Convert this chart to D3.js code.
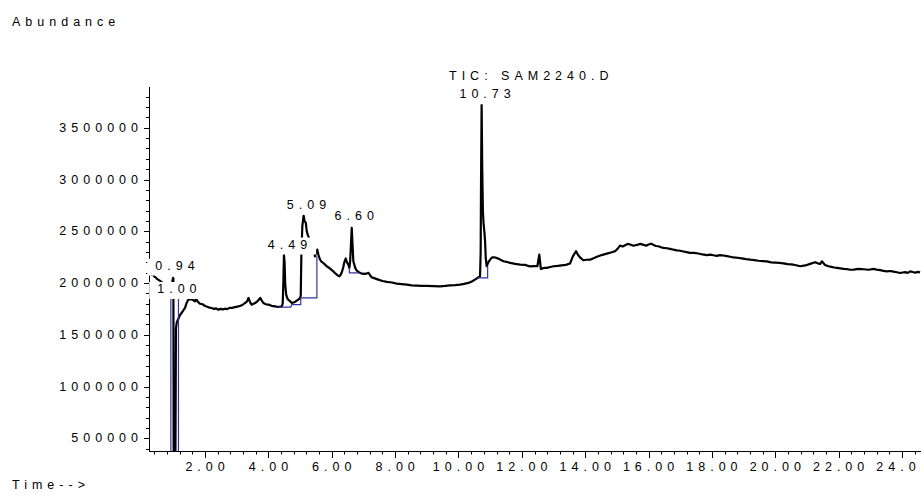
<!DOCTYPE html>
<html>
<head>
<meta charset="utf-8">
<script src="https://cdn.jsdelivr.net/npm/d3@7"></script>
<style>
  body { margin: 0; background: #fff; }
  text { font-family: "Liberation Sans", Arial, sans-serif; font-size: 12.5px; letter-spacing: 5px; fill: #000; }
</style>
</head>
<body>
<svg id="chart" width="921" height="500"></svg>
<script>

// retention time (min) and abundance
var times = [0.23, 0.27, 0.31, 0.36, 0.39, 0.44, 0.48, 0.53, 0.58, 0.67, 0.77, 0.86, 0.95, 0.99, 1.00, 1.01, 1.06, 1.08, 1.105, 1.15,
  1.21, 1.28, 1.37, 1.42, 1.47, 1.55, 1.62, 1.68, 1.71, 1.77, 1.84, 1.92, 2.00, 2.07, 2.14, 2.21, 2.28, 2.35, 2.42, 2.49,
  2.56, 2.63, 2.70, 2.77, 2.84, 2.91, 2.98, 3.05, 3.12, 3.19, 3.26, 3.32, 3.37, 3.42, 3.47, 3.53, 3.58, 3.64, 3.70, 3.74,
  3.79, 3.84, 3.92, 4.00, 4.10, 4.21, 4.31, 4.38, 4.42, 4.45, 4.47, 4.49, 4.51, 4.53, 4.56, 4.60, 4.63, 4.68, 4.74, 4.79,
  4.84, 4.89, 4.94, 5.00, 5.02, 5.04, 5.07, 5.09, 5.11, 5.14, 5.18, 5.21, 5.24, 5.30, 5.36, 5.42, 5.47, 5.54, 5.58, 5.63,
  5.68, 5.73, 5.78, 5.84, 5.90, 5.95, 6.00, 6.05, 6.10, 6.16, 6.20, 6.24, 6.28, 6.32, 6.36, 6.39, 6.44, 6.48, 6.52, 6.555,
  6.58, 6.61, 6.63, 6.65, 6.68, 6.74, 6.79, 6.84, 6.92, 7.00, 7.08, 7.16, 7.21, 7.26, 7.36, 7.47, 7.60, 7.74, 7.90, 8.05,
  8.21, 8.37, 8.52, 8.68, 8.84, 9.00, 9.21, 9.42, 9.58, 9.73, 9.89, 10.05, 10.18, 10.31, 10.42, 10.52, 10.60, 10.68, 10.70, 10.71,
  10.73, 10.75, 10.77, 10.79, 10.82, 10.84, 10.86, 10.89, 10.94, 11.00, 11.05, 11.10, 11.18, 11.26, 11.34, 11.42, 11.52, 11.63, 11.79, 11.95,
  12.10, 12.26, 12.38, 12.49, 12.55, 12.60, 12.70, 12.79, 12.90, 13.00, 13.13, 13.26, 13.39, 13.52, 13.61, 13.71, 13.76, 13.82, 13.94, 14.05,
  14.16, 14.26, 14.37, 14.52, 14.68, 14.81, 14.94, 15.02, 15.10, 15.18, 15.26, 15.34, 15.42, 15.52, 15.63, 15.74, 15.84, 15.92, 16.00, 16.08,
  16.15, 16.23, 16.31, 16.39, 16.47, 16.58, 16.68, 16.79, 16.89, 17.00, 17.10, 17.20, 17.31, 17.44, 17.57, 17.70, 17.84, 17.95, 18.05, 18.15,
  18.26, 18.36, 18.47, 18.58, 18.68, 18.81, 18.94, 19.08, 19.21, 19.34, 19.47, 19.60, 19.73, 19.87, 20.00, 20.13, 20.26, 20.39, 20.52, 20.66,
  20.79, 20.95, 21.10, 21.26, 21.34, 21.42, 21.47, 21.57, 21.68, 21.77, 21.86, 21.95, 22.05, 22.16, 22.26, 22.36, 22.47, 22.63, 22.79, 22.95,
  23.10, 23.20, 23.31, 23.42, 23.52, 23.63, 23.73, 23.84, 23.94, 24.02, 24.10, 24.18, 24.26, 24.34, 24.42, 24.50, 24.57];

var abundance = [2100000, 2095000, 2081000, 2088000, 2065000, 2055000, 2040000, 2030000, 2020000, 2000000, 1985000, 1980000, 1990000, 2050000, 2040000, 0, 0, 1560000, 1617000, 1650000,
  1690000, 1720000, 1762000, 1810000, 1839000, 1845000, 1835000, 1823000, 1849000, 1820000, 1800000, 1795000, 1778000, 1770000, 1762000, 1759000, 1750000, 1755000, 1742000, 1750000,
  1745000, 1752000, 1748000, 1760000, 1759000, 1765000, 1770000, 1774000, 1780000, 1790000, 1807000, 1820000, 1856000, 1815000, 1791000, 1800000, 1807000, 1820000, 1840000, 1856000,
  1830000, 1807000, 1795000, 1791000, 1780000, 1774000, 1768000, 1772000, 1774000, 1800000, 1990000, 2275000, 2200000, 1990000, 1888000, 1850000, 1839000, 1825000, 1807000, 1812000,
  1817000, 1830000, 1839000, 1856000, 1880000, 2275000, 2549000, 2598000, 2652000, 2600000, 2582000, 2500000, 2468000, 2420000, 2385000, 2355000, 2258000, 2323000, 2270000, 2226000,
  2205000, 2194000, 2180000, 2162000, 2150000, 2139000, 2125000, 2113000, 2095000, 2081000, 2070000, 2065000, 2080000, 2107000, 2150000, 2194000, 2237000, 2200000, 2180000, 2146000,
  2210000, 2404000, 2533000, 2404000, 2210000, 2146000, 2120000, 2107000, 2095000, 2088000, 2090000, 2098000, 2075000, 2055000, 2045000, 2033000, 2020000, 2011000, 2005000, 1994000,
  1990000, 1984000, 1978000, 1975000, 1973000, 1972000, 1970000, 1968000, 1972000, 1978000, 1980000, 1984000, 1992000, 2001000, 2015000, 2033000, 2050000, 2065000, 2300000, 2900000,
  3727000, 3100000, 2700000, 2582000, 2485000, 2400000, 2243000, 2162000, 2200000, 2226000, 2245000, 2249000, 2245000, 2236000, 2222000, 2210000, 2205000, 2194000, 2185000, 2178000,
  2175000, 2160000, 2164000, 2162000, 2275000, 2136000, 2146000, 2146000, 2155000, 2162000, 2165000, 2171000, 2175000, 2188000, 2258000, 2307000, 2280000, 2253000, 2220000, 2225000,
  2226000, 2240000, 2253000, 2270000, 2284000, 2295000, 2307000, 2330000, 2362000, 2352000, 2365000, 2378000, 2372000, 2360000, 2368000, 2378000, 2369000, 2360000, 2372000, 2380000,
  2369000, 2358000, 2355000, 2346000, 2340000, 2336000, 2330000, 2322000, 2316000, 2312000, 2305000, 2298000, 2291000, 2292000, 2285000, 2276000, 2270000, 2275000, 2268000, 2262000,
  2270000, 2266000, 2260000, 2254000, 2247000, 2244000, 2238000, 2231000, 2226000, 2222000, 2215000, 2212000, 2209000, 2200000, 2198000, 2195000, 2190000, 2183000, 2180000, 2172000,
  2162000, 2170000, 2185000, 2201000, 2190000, 2185000, 2210000, 2175000, 2162000, 2156000, 2150000, 2147000, 2142000, 2136000, 2135000, 2128000, 2130000, 2137000, 2133000, 2128000,
  2136000, 2130000, 2125000, 2118000, 2113000, 2116000, 2110000, 2104000, 2097000, 2102000, 2105000, 2098000, 2113000, 2106000, 2100000, 2108000, 2103000];

// integrated peaks: label, apex time, label level (abundance)
var peakLabels = ["0.94", "1.00", "4.49", "5.09", "6.60", "10.73"];
var peakTimes = [0.94, 1.00, 4.49, 5.09, 6.60, 10.73];
var peakLabelLevel = [2130000, 1904000, 2333000, 2720000, 2607000, 3785000];

// integration baselines (time, abundance pairs)
var baselines = [
  [[0.92, 1900000], [0.92, 0], [1.16, 0], [1.16, 1900000]],
  [[4.31, 1768000], [4.70, 1768000], [4.74, 1791000], [5.02, 1791000], [5.02, 1856000], [5.53, 1856000], [5.53, 2258000]],
  [[6.555, 2146000], [6.555, 2098000], [6.84, 2098000]],
  [[10.60, 2049000], [10.92, 2049000], [10.92, 2162000]]
];

var xTicks = [2, 4, 6, 8, 10, 12, 14, 16, 18, 20, 22, 24];
var xMinor = d3.range(0.4, 24.5, 0.4);
var yTicks = [500000, 1000000, 1500000, 2000000, 2500000, 3000000, 3500000];
var yMinor = d3.range(400000, 3850000, 100000);

var svg = d3.select("#chart");
var plotLeft = 149, plotRight = 921, plotTop = 87, plotBottom = 451;
var ls = 5;

var x = d3.scaleLinear().domain([0.23, 24.6]).range([plotLeft, plotRight]);
var y = d3.scaleLinear().domain([377000, 3894000]).range([plotBottom, plotTop]);

// ---- axes
var axes = svg.append("g").attr("stroke", "#000").attr("stroke-width", 1);
axes.append("line").attr("x1", plotLeft).attr("x2", plotRight).attr("y1", plotBottom + 0.5).attr("y2", plotBottom + 0.5);
axes.append("line").attr("x1", plotLeft + 0.5).attr("x2", plotLeft + 0.5).attr("y1", plotTop).attr("y2", plotBottom);

xMinor.forEach(function (t) {
  var major = xTicks.some(function (m) { return Math.abs(m - t) < 0.01; });
  axes.append("line")
    .attr("x1", Math.round(x(t)) + 0.5).attr("x2", Math.round(x(t)) + 0.5)
    .attr("y1", plotBottom).attr("y2", plotBottom + (major ? 7 : 3.5));
});
yMinor.forEach(function (v) {
  var major = yTicks.indexOf(Math.round(v)) >= 0;
  axes.append("line")
    .attr("x1", plotLeft - (major ? 5 : 3)).attr("x2", plotLeft)
    .attr("y1", Math.round(y(v)) + 0.5).attr("y2", Math.round(y(v)) + 0.5);
});

svg.append("g").selectAll("text").data(xTicks).enter().append("text")
  .attr("x", function (d) { return x(d) + ls / 2; })
  .attr("y", 471)
  .attr("text-anchor", "middle")
  .text(function (d) { return d.toFixed(2); });

svg.append("g").selectAll("text").data(yTicks).enter().append("text")
  .attr("x", 143)
  .attr("y", function (d) { return y(d) + 4; })
  .attr("text-anchor", "end")
  .text(function (d) { return d; });

// ---- trace
svg.append("clipPath").attr("id", "plot")
  .append("rect").attr("x", plotLeft).attr("y", 0).attr("width", plotRight - plotLeft).attr("height", plotBottom);

var line = d3.line()
  .x(function (d) { return x(d[0]); })
  .y(function (d) { return y(d[1]); });

svg.append("path")
  .datum(d3.zip(times, abundance))
  .attr("clip-path", "url(#plot)")
  .attr("fill", "none")
  .attr("stroke", "#000")
  .attr("stroke-width", 2.2)
  .attr("stroke-linejoin", "round")
  .attr("d", line);

svg.append("g").attr("clip-path", "url(#plot)").selectAll("path").data(baselines).enter().append("path")
  .attr("fill", "none")
  .attr("stroke", "#3333a0")
  .attr("stroke-width", 1.2)
  .attr("d", line);

// ---- peak labels with white boxes
peakLabels.forEach(function (lab, i) {
  var g = svg.append("g");
  var t = g.append("text")
    .attr("x", x(peakTimes[i]) + 6)
    .attr("y", y(peakLabelLevel[i]))
    .attr("text-anchor", "middle")
    .text(lab);
  var b = t.node().getBBox();
  g.insert("rect", "text")
    .attr("x", b.x - 8).attr("y", b.y)
    .attr("width", b.width + 12).attr("height", b.height + 3)
    .attr("fill", "#fff");
});

svg.append("text").attr("x", 449).attr("y", 80).text("TIC: SAM2240.D");
svg.append("text").attr("x", 12).attr("y", 26).text("Abundance");
svg.append("text").attr("x", 12).attr("y", 489).text("Time-->");

</script>
</body>
</html>
